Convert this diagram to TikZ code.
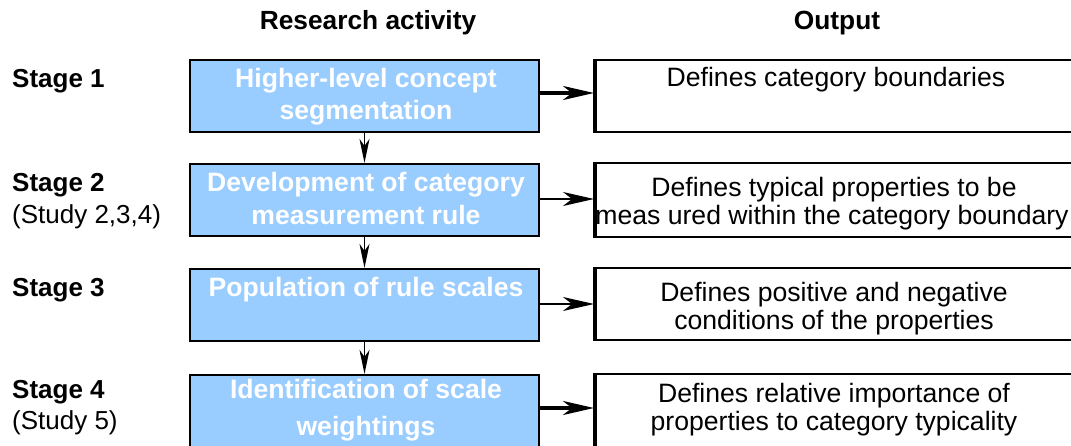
\documentclass[tikz,border=0pt]{standalone}
\usepackage{fontspec}
\setmainfont{Liberation Sans}
\usetikzlibrary{arrows.meta}
\definecolor{boxblue}{RGB}{153,204,255}
\begin{document}
\begin{tikzpicture}[x=1pt,y=-1pt,
  actbox/.style={draw=black,line width=2.2pt,fill=boxblue,rectangle,inner sep=0pt},
  outbox/.style={draw=black,line width=2pt,fill=white,rectangle,inner sep=0pt},
  acttext/.style={anchor=base,inner sep=0pt,text=white,font=\fontsize{26.6}{33}\selectfont\bfseries},
  outtext/.style={anchor=base,inner sep=0pt,font=\fontsize{26.6}{28}\selectfont},
  stagetext/.style={anchor=base west,inner sep=0pt,font=\fontsize{26}{30}\selectfont\bfseries},
  studytext/.style={anchor=base west,inner sep=0pt,font=\fontsize{26}{30}\selectfont},
  headtext/.style={anchor=base,inner sep=0pt,font=\fontsize{26.3}{30}\selectfont\bfseries},
  thickarr/.style={line width=3.5pt,-{Stealth[length=31pt,width=14pt,inset=9pt]}},
  thinarr/.style={line width=1.8pt,-{Stealth[length=31pt,width=14pt,inset=9pt]}},
  downarr/.style={line width=1.8pt,-{Stealth[length=24pt,width=10pt,inset=7pt]}}
]
\useasboundingbox (0,0) rectangle (1071,446);
\begin{scope}
\clip (0,0) rectangle (1071,446);
% headers
\node[headtext] (h1) at (368,30) {Research activity};
\node[headtext] (h2) at (837,30) {Output};
% stage labels
\node[stagetext] (s1) at (12,88) {Stage 1};
\node[stagetext] (s2) at (12,192) {Stage 2};
\node[studytext] (st2) at (12,224) {(Study 2,3,4)};
\node[stagetext] (s3) at (12,297) {Stage 3};
\node[stagetext] (s4) at (12,398) {Stage 4};
\node[studytext] (st4) at (12,429) {(Study 5)};
% activity boxes
\node[actbox,minimum width=349pt,minimum height=72pt] (b1) at (364.5,96) {};
\node[actbox,minimum width=349pt,minimum height=72pt] (b2) at (364.5,200) {};
\node[actbox,minimum width=349pt,minimum height=72pt] (b3) at (364.5,305) {};
\node[actbox,minimum width=349pt,minimum height=80pt] (b4) at (364.5,415) {};
% output boxes
\node[outbox,minimum width=490pt,minimum height=72pt] (o1) at (840,96) {};
\node[outbox,minimum width=490pt,minimum height=74pt] (o2) at (840,200) {};
\node[outbox,minimum width=490pt,minimum height=72pt] (o3) at (840,304) {};
\node[outbox,minimum width=490pt,minimum height=80pt] (o4) at (840,414) {};
\foreach \o in {o1,o2,o3,o4}{
  \draw[line width=4.5pt] ([xshift=1.2pt]\o.north west) -- ([xshift=1.2pt]\o.south west);
}
% activity texts
\node[acttext] (t1a) at (366,88) {Higher-level concept};
\node[acttext] (t1b) at (366,120) {segmentation};
\node[acttext] (t2a) at (366,192) {Development of category};
\node[acttext] (t2b) at (366,225) {measurement rule};
\node[acttext] (t3a) at (366,297) {Population of rule scales};
\node[acttext] (t4a) at (366,398) {Identification of scale};
\node[acttext] (t4b) at (366,435) {weightings};
% output texts
\node[outtext] (u1a) at (836,87) {Defines category boundaries};
\node[outtext] (u2a) at (834,197) {Defines typical properties to be};
\node[outtext] (u2b) at (832,225) {meas ured within the category boundary};
\node[outtext] (u3a) at (834,302) {Defines positive and negative};
\node[outtext] (u3b) at (834,330) {conditions of the properties};
\node[outtext] (u4a) at (834,402) {Defines relative importance of};
\node[outtext] (u4b) at (834,430) {properties to category typicality};
% horizontal arrows
\draw[thickarr] ([yshift=3pt]b1.east) -- ([yshift=3pt]b1.east -| o1.west);
\draw[thinarr] ([yshift=1pt]b2.east) -- ([yshift=1pt]b2.east -| o2.west);
\draw[thinarr] ([yshift=1pt]b3.east) -- ([yshift=1pt]b3.east -| o3.west);
\draw[thickarr] ([yshift=7pt]b4.east) -- ([yshift=7pt]b4.east -| o4.west);
% vertical arrows
\draw[downarr] (b1.south) -- (b2.north);
\draw[downarr] (b2.south) -- (b3.north);
\draw[downarr] (b3.south) -- (b4.north);
\end{scope}
\end{tikzpicture}
\end{document}
